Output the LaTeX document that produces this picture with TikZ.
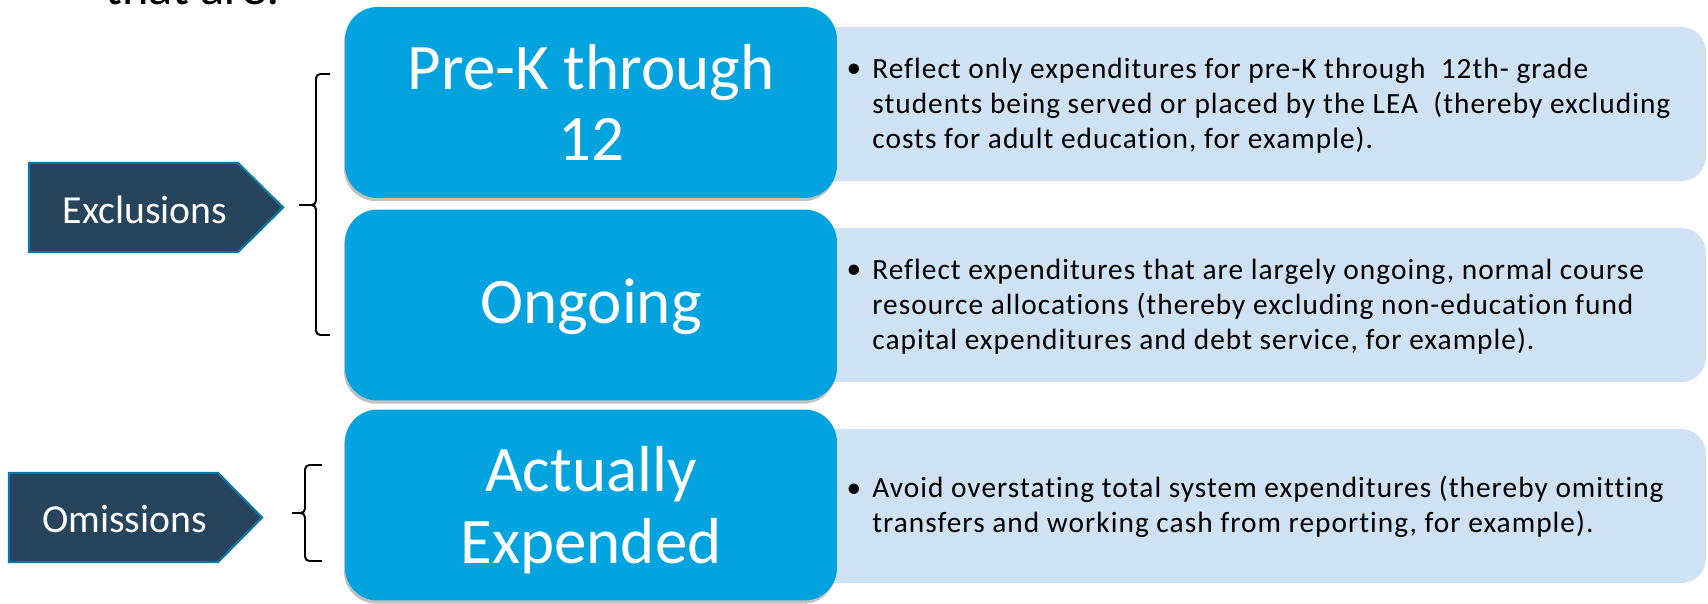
\documentclass[tikz,border=0pt]{standalone}
\usepackage{fontspec}
\setmainfont{Carlito}[Ligatures=NoCommon]
\newfontfamily\bodyfont{Carlito}[LetterSpace=3.5, Ligatures=NoCommon]
\usetikzlibrary{shadows}
\definecolor{boxblue}{HTML}{03A3E0}
\definecolor{lightblue}{HTML}{CFE2F3}
\definecolor{darkfill}{HTML}{26445B}
\definecolor{darkedge}{HTML}{0E76A3}
\begin{document}
\begin{tikzpicture}[x=0.02cm,y=-0.02cm,
  bluebox/.style={fill=boxblue, rounded corners=18.5pt, inner sep=0pt,
    minimum width=9.84cm, minimum height=3.82cm,
    drop shadow={shadow xshift=-0.6pt, shadow yshift=-1.8pt, opacity=0.4, fill=black!60}},
  bluelabel/.style={inner sep=0pt, align=center, text=white,
    font=\fontsize{37pt}{40.8pt}\selectfont},
  lightbox/.style={fill=lightblue, rounded corners=14pt, inner sep=0pt,
    minimum width=18.12cm, minimum height=3.08cm},
  bodytext/.style={inner sep=0pt, anchor=west, align=left,
    font=\bodyfont\fontsize{16.7pt}{20.1pt}\selectfont},
  bulletmark/.style={inner sep=0pt, anchor=base, font=\fontsize{16.7pt}{20.1pt}\selectfont},
  tagshape/.style={fill=darkfill, draw=darkedge, line width=1.3pt, line join=miter},
  tagtext/.style={inner sep=0pt, anchor=base, text=white, font=\fontsize{22.6pt}{26pt}\selectfont},
  bracket/.style={draw=black, line width=1.1pt, rounded corners=2.5pt}
]
\useasboundingbox (0,0) rectangle (1708,603);
\fill[white] (0,0) rectangle (1708,603);

% cut-off heading
\node[inner sep=0pt, anchor=base west, font=\fontsize{28.6pt}{32pt}\selectfont] (head) at (105,4) {that are:};

% light description boxes
\node[lightbox] (l1) at (1253,104) {};
\node[lightbox] (l2) at (1253,305) {};
\node[lightbox] (l3) at (1253,506) {};

% blue boxes
\node[bluebox] (c1) at (591,102.5) {};
\node[bluebox] (c2) at (591,305) {};
\node[bluebox] (c3) at (591,505) {};
\node[bluelabel] (c1t) at (591,102.5) {Pre-K through\\12};
\node[bluelabel] (c2t) at (591,307) {Ongoing};
\node[bluelabel] (c3t) at (591,510) {Actually\\Expended};

% descriptions
\node[bulletmark] (b1) at (854,77) {•};
\node[bodytext] (t1) at (872,105.5) {Reflect only expenditures for pre-K through\ \ 12th- grade\\students being served or placed by the LEA\ \ (thereby excluding\\costs for adult education, for example).};
\node[bulletmark] (b2) at (854,278) {•};
\node[bodytext] (t2) at (872,306.5) {Reflect expenditures that are largely ongoing, normal course\\resource allocations (thereby excluding non-education fund\\capital expenditures and debt service, for example).};
\node[bulletmark] (b3) at (854,497) {•};
\node[bodytext] (t3) at (872,507) {Avoid overstating total system expenditures (thereby omitting\\transfers and working cash from reporting, for example).};

% tags
\draw[tagshape] (29,163) -- (238,163) -- (283,207.5) -- (238,252) -- (29,252) -- cycle;
\node[tagtext] (x1) at (145,223) {Exclusions};
\draw[tagshape] (9,473) -- (218,473) -- (262,517.5) -- (218,562) -- (9,562) -- cycle;
\node[tagtext] (x2) at (124.5,532) {Omissions};

% brackets
\coordinate (p1top) at (330,74);
\coordinate (p1mid) at (299,205);
\coordinate (p1bot) at (330,335);
\draw[bracket] (p1top) -- (316,74) -- (316,205) -- (p1mid);
\draw[bracket] (p1mid) -- (316,205) -- (316,335) -- (p1bot);
\coordinate (p2top) at (322,465);
\coordinate (p2mid) at (292,513);
\coordinate (p2bot) at (322,561);
\draw[bracket] (p2top) -- (305,465) -- (305,513) -- (p2mid);
\draw[bracket] (p2mid) -- (305,513) -- (305,561) -- (p2bot);
\end{tikzpicture}
\end{document}
